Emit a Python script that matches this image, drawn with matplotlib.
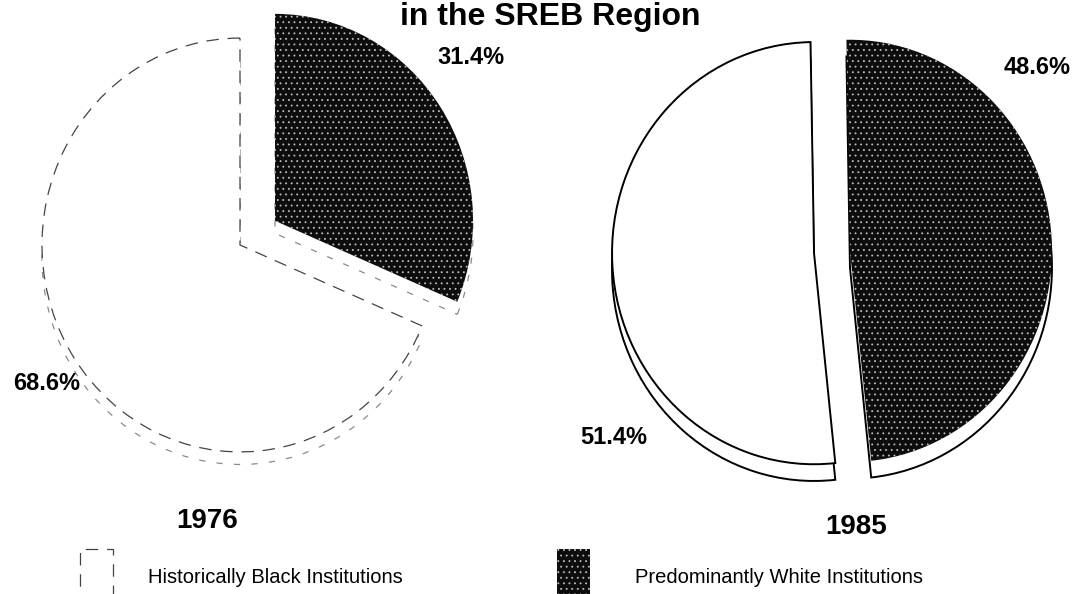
import matplotlib
matplotlib.use("Agg")
import matplotlib.pyplot as plt

plt.rcParams['font.family'] = ['Liberation Sans', 'DejaVu Sans']
plt.rcParams['hatch.linewidth'] = 0.6

# enrollment share, percent (dark = predominantly white, light = historically black)
groups = ["Predominantly White Institutions", "Historically Black Institutions"]
years = ["1976", "1985"]
share_1976 = [31.4, 68.6]
share_1985 = [48.6, 51.4]
title = "in the SREB Region"

W, H = 1072, 594
SY = 1.045  # scan is stretched a bit vertically


def yd(y_px):
    # pixel row (from top) -> data y
    return (H - y_px) / SY


fig = plt.figure(figsize=(W / 100, H / 100), dpi=100)
ax = fig.add_axes([0, 0, 1, 1])


def draw_pie(values, cx, cy, r, explode, start, depth, edge, ls, lw, wall_edge, wall_ls):
    # side wall: same pie pushed down, drawn first so the top covers it
    ax.pie(values, radius=r, center=(cx, yd(cy) - depth), explode=explode,
           startangle=start, counterclock=False, colors=['white', 'white'],
           wedgeprops=dict(edgecolor=wall_edge, linewidth=lw, linestyle=wall_ls),
           frame=True)
    wedges, _ = ax.pie(values, radius=r, center=(cx, yd(cy)), explode=explode,
                       startangle=start, counterclock=False,
                       colors=['#0d0d0d', 'white'],
                       wedgeprops=dict(edgecolor=edge, linewidth=lw, linestyle=ls),
                       frame=True)
    dark = wedges[0]
    dark.set_edgecolor('#bdbdbd')
    dark.set_linewidth(0)
    dark.set_linestyle('-')
    dark.set_hatch('...')
    return wedges


w76 = draw_pie(share_1976, 240, 245, 198, [42, 0], 90, 12,
               '#444444', (0, (10, 7)), 0.9, '#8a8a8a', (0, (5, 9)))
w85 = draw_pie(share_1985, 832, 252, 202, [18, 18], 91, 16,
               'black', '-', 1.4, 'black', '-')

ax.set_aspect('auto')
ax.set_xlim(0, W)
ax.set_ylim(0, H / SY)
ax.axis('off')

ax.text(550, yd(25), title, ha='center', va='baseline',
        fontsize=23, fontweight='bold')

lbl = dict(ha='center', va='center', fontsize=17, fontweight='bold')
ax.text(471, yd(57), f"{share_1976[0]}%", **lbl)
ax.text(47, yd(383), f"{share_1976[1]}%", **lbl)
ax.text(1037, yd(67), f"{share_1985[0]}%", **lbl)
ax.text(614, yd(437), f"{share_1985[1]}%", **lbl)

ax.text(207, yd(521), years[0], ha='center', va='center', fontsize=20, fontweight='bold')
ax.text(856, yd(527), years[1], ha='center', va='center', fontsize=20, fontweight='bold')

leg_kw = dict(loc='center left', bbox_transform=ax.transData, frameon=False,
              fontsize=14.5, handlelength=1.65, handleheight=4.0,
              borderpad=0, borderaxespad=0)
leg1 = ax.legend([w76[1]], [groups[1]], bbox_to_anchor=(80, yd(578)),
                 handletextpad=1.75, **leg_kw)
ax.add_artist(leg1)
ax.legend([w85[0]], [groups[0]], bbox_to_anchor=(557, yd(578)),
          handletextpad=2.2, **leg_kw)

fig.savefig("out.png", dpi=100)
